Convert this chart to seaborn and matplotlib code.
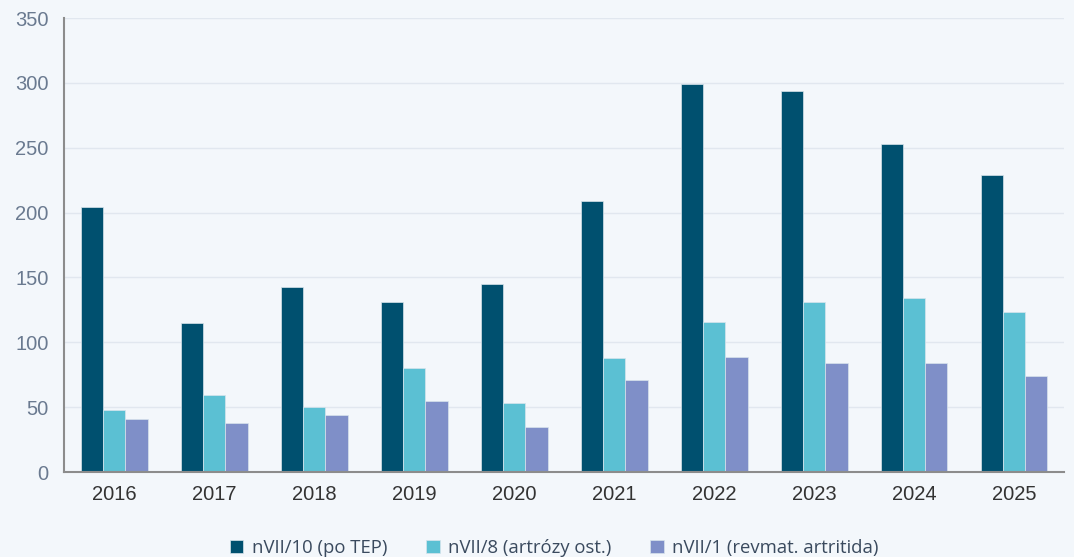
import numpy as np
import pandas as pd
import seaborn as sns
import matplotlib.pyplot as plt

years = ["2016", "2017", "2018", "2019", "2020", "2021", "2022", "2023", "2024", "2025"]
series = ["nVII/10 (po TEP)", "nVII/8 (artrózy ost.)", "nVII/1 (revmat. artritida)"]
tep = [204, 115, 143, 131, 145, 209, 299, 294, 253, 229]
artrozy = [48, 59, 50, 80, 53, 88, 116, 131, 134, 123]
revmat = [41, 38, 44, 55, 35, 71, 89, 84, 84, 74]
colors = ["#00506F", "#5BC0D3", "#7F8FC8"]

df = pd.DataFrame({
    "Rok": years * 3,
    "Počet": tep + artrozy + revmat,
    "Skupina": [series[0]] * 10 + [series[1]] * 10 + [series[2]] * 10,
})

sns.set_style("white")
plt.rcParams["font.family"] = ["Liberation Sans", "DejaVu Sans"]

bg = "#F3F7FB"
fig = plt.figure(figsize=(10.74, 5.57), dpi=100, facecolor=bg)
ax = fig.add_axes([64 / 1074, 1 - 472 / 557, 1000 / 1074, 454 / 557])
ax.set_facecolor(bg)

sns.barplot(data=df, x="Rok", y="Počet", hue="Skupina", palette=colors,
            width=0.67, gap=0, ax=ax, legend=True, saturation=1,
            edgecolor="#D8E4EC", linewidth=0.5)

ax.set_xlim(-0.5, 9.5)
ax.set_ylim(0, 350)
ax.set_yticks(range(0, 351, 50))
ax.yaxis.grid(True, color="#E1E7EF", linewidth=1)
ax.set_axisbelow(True)
ax.set_xlabel("")
ax.set_ylabel("")

for s in ["top", "right"]:
    ax.spines[s].set_visible(False)
for s in ["left", "bottom"]:
    ax.spines[s].set_color("#8C8C8C")
    ax.spines[s].set_linewidth(1.5)

ax.set_xticks(np.arange(-0.5, 10, 1), minor=True)
ax.tick_params(axis="x", which="major", length=0, labelsize=14.5, labelcolor="#333333", pad=9)
ax.tick_params(axis="x", which="minor", length=7, width=1.5, color="#8C8C8C", direction="out")
ax.tick_params(axis="y", length=6, width=1.5, color="#8C8C8C", direction="out",
               labelsize=14.5, labelcolor="#6A7A90", pad=5)

handles, labels = ax.get_legend_handles_labels()
ax.legend_.remove()
fig.legend(handles, labels, loc="lower center", bbox_to_anchor=(0.516, -0.03), ncol=3,
           frameon=False, handlelength=0.75, handleheight=0.75,
           handletextpad=0.45, columnspacing=2.1, labelcolor="#3A4A5E",
           prop={"family": ["Open Sans", "DejaVu Sans"], "size": 13.3})

fig.savefig("out.png", dpi=100, facecolor=bg)
